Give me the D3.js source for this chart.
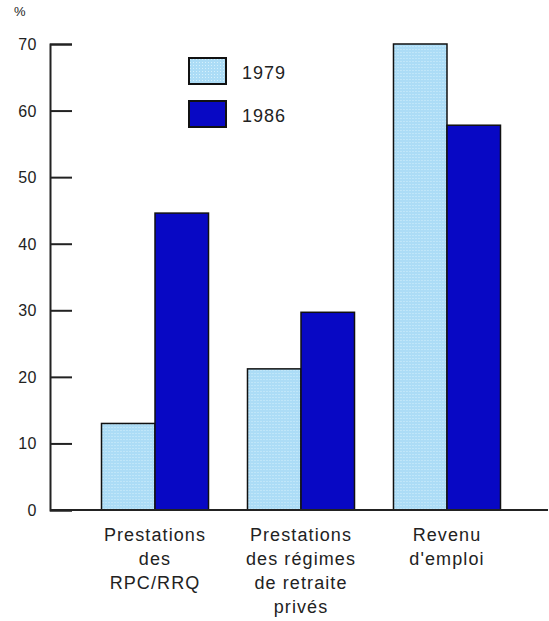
<!DOCTYPE html>
<html>
<head>
<meta charset="utf-8">
<script src="https://cdn.jsdelivr.net/npm/d3@7"></script>
<style>
  body { margin: 0; background: #fff; }
  svg { display: block; font-family: "Liberation Sans", Arial, sans-serif; }
</style>
</head>
<body>
<svg id="chart" width="549" height="621"></svg>
<script>
// data
const categories = [
    ["Prestations", "des", "RPC/RRQ"],
    ["Prestations", "des régimes", "de retraite", "privés"],
    ["Revenu", "d'emploi"]
];
const years = ["1979", "1986"];
const values1979 = [13, 21.2, 70];
const values1986 = [44.6, 29.7, 57.8];
const yTicks = [0, 10, 20, 30, 40, 50, 60, 70];

const colors = { "1979": "#acdcf6", "1986": "#0808c4" };

const svg = d3.select("#chart");

const y = d3.scaleLinear().domain([0, 70]).range([510, 44]);

const x = d3.scaleBand()
    .domain(d3.range(categories.length))
    .range([82, 520])
    .paddingInner(0.267)
    .paddingOuter(0.1336);

const xInner = d3.scaleBand()
    .domain(years)
    .range([0, x.bandwidth()]);

// light blue dither pattern
const defs = svg.append("defs");
const pat = defs.append("pattern")
    .attr("id", "dots")
    .attr("width", 3)
    .attr("height", 3)
    .attr("patternUnits", "userSpaceOnUse");
pat.append("rect").attr("width", 3).attr("height", 3).attr("fill", colors["1979"]);
pat.append("rect").attr("x", 1).attr("y", 1).attr("width", 1).attr("height", 1).attr("fill", "#d4f0fc");

const fillFor = yr => yr === "1979" ? "url(#dots)" : colors["1986"];

// bars
const groups = svg.append("g").selectAll("g")
    .data(categories.map((c, i) => ({ i, vals: [values1979[i], values1986[i]] })))
    .join("g")
    .attr("transform", d => `translate(${x(d.i)},0)`);

groups.selectAll("rect")
    .data(d => years.map((yr, k) => ({ yr, v: d.vals[k] })))
    .join("rect")
    .attr("x", d => xInner(d.yr))
    .attr("y", d => y(d.v))
    .attr("width", xInner.bandwidth())
    .attr("height", d => y(0) - y(d.v))
    .attr("fill", d => fillFor(d.yr))
    .attr("stroke", "#111")
    .attr("stroke-width", 1.5);

// y axis
const yAxis = d3.axisRight(y).tickValues(yTicks).tickSize(22).tickFormat("");
const ya = svg.append("g").attr("transform", "translate(50,0)").call(yAxis);
ya.select(".domain").attr("stroke", "#222").attr("stroke-width", 2);
ya.selectAll(".tick line").attr("stroke", "#222").attr("stroke-width", 2);

svg.append("g").selectAll("text")
    .data(yTicks)
    .join("text")
    .attr("x", 37)
    .attr("y", d => y(d) + 6)
    .attr("text-anchor", "end")
    .attr("font-size", 16)
    .attr("letter-spacing", 0.5)
    .attr("fill", "#222")
    .text(d => d);

// baseline
svg.append("line")
    .attr("x1", 50).attr("x2", 548)
    .attr("y1", y(0)).attr("y2", y(0))
    .attr("stroke", "#222")
    .attr("stroke-width", 2);

svg.append("text")
    .attr("x", 14).attr("y", 16)
    .attr("font-size", 13)
    .attr("fill", "#222")
    .text("%");

// category labels
svg.append("g").selectAll("text")
    .data(categories)
    .join("text")
    .attr("x", (d, i) => x(i) + x.bandwidth() / 2)
    .attr("y", 541)
    .attr("text-anchor", "middle")
    .attr("font-size", 18)
    .attr("letter-spacing", 1.1)
    .attr("fill", "#222")
    .each(function(lines) {
        d3.select(this).selectAll("tspan")
            .data(lines)
            .join("tspan")
            .attr("x", d3.select(this).attr("x"))
            .attr("dy", (l, k) => k === 0 ? 0 : 24)
            .text(l => l);
    });

// legend
const legend = svg.append("g").selectAll("g")
    .data(years)
    .join("g")
    .attr("transform", (d, i) => `translate(189,${58 + i * 43})`);

legend.append("rect")
    .attr("width", 37)
    .attr("height", 26)
    .attr("fill", d => fillFor(d))
    .attr("stroke", "#111")
    .attr("stroke-width", 2);

legend.append("text")
    .attr("x", 53)
    .attr("y", 21)
    .attr("font-size", 18)
    .attr("letter-spacing", 1)
    .attr("fill", "#222")
    .text(d => d);
</script>
</body>
</html>
